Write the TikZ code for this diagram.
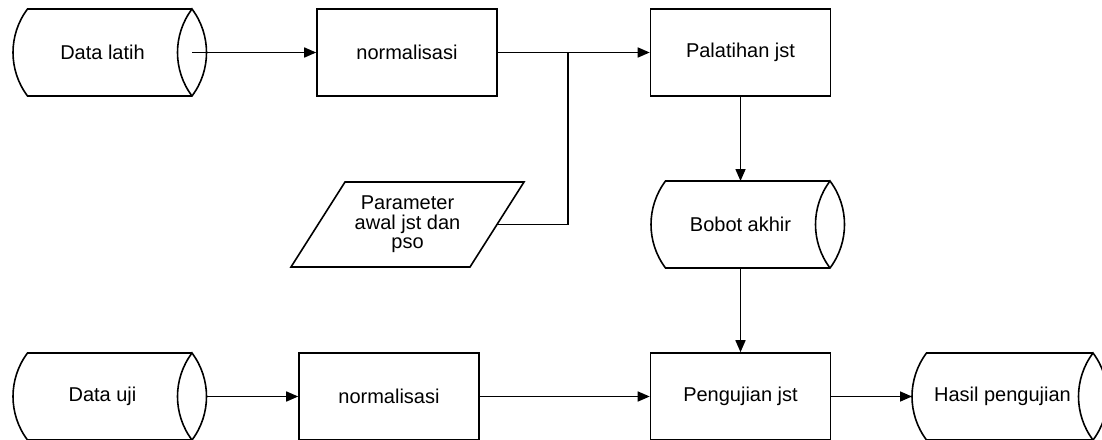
\documentclass[tikz,border=0pt]{standalone}
\usepackage{fontspec}
\setmainfont{Liberation Sans}
\usepackage{tikz}
\usetikzlibrary{arrows.meta}

\begin{document}
\begin{tikzpicture}[
x=0.5pt,y=-0.5pt,
font=\fontsize{10}{9.8}\selectfont,
line width=0.8pt,
proc/.style={rectangle,draw=black,minimum width=90pt,minimum height=43.5pt,inner sep=0pt},
store/.style={rectangle,minimum width=89.5pt,minimum height=43.5pt,inner sep=0pt,outer sep=0pt},
inp/.style={rectangle,minimum width=89.5pt,minimum height=42.5pt,inner sep=0pt,outer sep=0pt,align=center},
flow/.style={-{Triangle[length=6pt,width=5pt]}}
]
\useasboundingbox (0,0) rectangle (1102,439);

\node[store] (dlatih) at (102.5,52.5) {Data latih};
\node[proc] (norm1) at (407,52.5) {normalisasi};
\node[proc] (latih) at (740.5,52.5) {Palatihan jst};
\node[inp] (param) at (407.5,224.5) {Parameter\\awal jst dan\\pso};
\node[store] (bobot) at (740.5,224.5) {Bobot akhir};
\node[store] (duji) at (102.5,396.5) {Data uji};
\node[proc] (norm2) at (389,396.5) {normalisasi};
\node[proc] (uji) at (740.5,396.5) {Pengujian jst};
\node[store,minimum width=90.5pt] (hasil) at (1002.5,396.5) {Hasil pengujian};
\coordinate (cabang) at (568,52.5);

\foreach \n in {dlatih,bobot,duji,hasil}
{
    \draw (\n.north east) -- ([xshift=7.25pt]\n.north west)
        arc[start angle=143.13,end angle=216.87,radius=36.25pt]
        -- (\n.south east)
        arc[start angle=-36.87,end angle=36.87,radius=36.25pt]
        arc[start angle=143.13,end angle=216.87,radius=36.25pt];
}
\draw ([xshift=13.5pt]param.north west) -- ([xshift=13.5pt]param.north east)
    -- ([xshift=-13.5pt]param.south east) -- ([xshift=-13.5pt]param.south west) -- cycle;

\draw[flow] (dlatih.east) -- (norm1);
\draw[flow] (norm1) -- (latih);
\draw (param.east) -| (cabang);
\draw[flow] (latih) -- (bobot);
\draw[flow] (bobot) -- (uji);
\draw[flow] ([xshift=7.25pt]duji.east) -- (norm2);
\draw[flow] (norm2) -- (uji);
\draw[flow] (uji) -- (hasil);
\end{tikzpicture}
\end{document}
